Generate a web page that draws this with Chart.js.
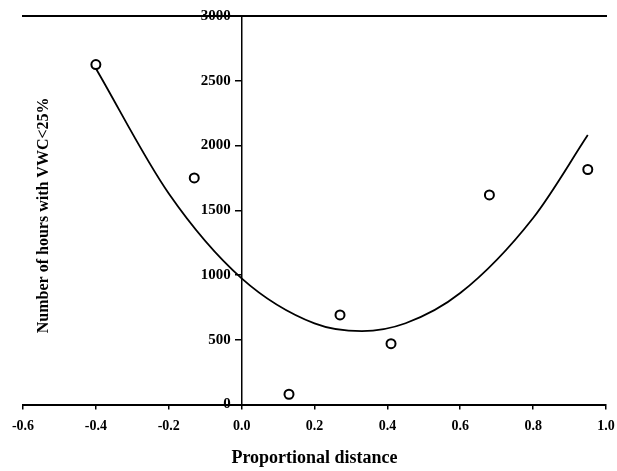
<!DOCTYPE html>
<html>
<head>
<meta charset="utf-8">
<script src="https://cdn.jsdelivr.net/npm/chart.js@4/dist/chart.umd.min.js"></script>
<style>
  html, body { margin: 0; padding: 0; background: #fff; }
  #wrap { width: 617px; height: 471px; }
</style>
</head>
<body>
<div id="wrap"><canvas id="chart"></canvas></div>
<script>
// === DATA ===
const distance = [-0.40, -0.13, 0.13, 0.27, 0.41, 0.68, 0.95];
const hours = [2625, 1750, 80, 692, 470, 1619, 1815];

// fitted curve, read at a few places along the drawn line
const fitDistance = [-0.40, -0.20, 0.00, 0.20, 0.33, 0.45, 0.60, 0.80, 0.95];
const fitHours = [2595, 1630, 975, 627, 567, 628, 861, 1441, 2081];

const xTicks = [-0.6, -0.4, -0.2, 0.0, 0.2, 0.4, 0.6, 0.8, 1.0];
const yTicks = [0, 500, 1000, 1500, 2000, 2500, 3000];

const xTitle = 'Proportional distance';
const yTitle = 'Number of hours with VWC<25%';

const serif = '"Liberation Serif", "Times New Roman", serif';

// the y axis sits at x = 0 inside the plot, so its labels and title are drawn here
const yLabelsPlugin = {
    id: 'yLabels',
    afterDraw(chart) {
        const { ctx, chartArea } = chart;
        const xs = chart.scales.x;
        const ys = chart.scales.y;
        const axisX = xs.getPixelForValue(0);
        ctx.save();
        ctx.fillStyle = '#000';

        ctx.font = 'bold 15px ' + serif;
        ctx.textAlign = 'right';
        ctx.textBaseline = 'middle';
        yTicks.forEach(v => {
            ctx.fillText(String(v), axisX - 11, ys.getPixelForValue(v));
        });

        ctx.translate(chartArea.left + 21, (chartArea.top + chartArea.bottom) / 2 + 5);
        ctx.rotate(-Math.PI / 2);
        ctx.font = 'bold 16px ' + serif;
        ctx.textAlign = 'center';
        ctx.fillText(yTitle, 0, 0);
        ctx.restore();
    }
};

new Chart(document.getElementById('chart'), {
    type: 'scatter',
    data: {
        datasets: [
            {
                label: 'Hours',
                data: distance.map((d, i) => ({ x: d, y: hours[i] })),
                pointStyle: 'circle',
                pointRadius: 4.5,
                pointBorderWidth: 2,
                pointBorderColor: '#000',
                pointBackgroundColor: '#fff',
                showLine: false
            },
            {
                label: 'Fit',
                type: 'line',
                data: fitDistance.map((d, i) => ({ x: d, y: fitHours[i] })),
                borderColor: '#000',
                borderWidth: 1.8,
                cubicInterpolationMode: 'monotone',
                pointRadius: 0,
                fill: false
            }
        ]
    },
    options: {
        responsive: true,
        maintainAspectRatio: false,
        animation: false,
        layout: { padding: { left: 23, right: 11, top: 8, bottom: 0 } },
        plugins: {
            legend: { display: false },
            tooltip: { enabled: false }
        },
        scales: {
            x: {
                type: 'linear',
                position: 'bottom',
                min: -0.6,
                max: 1.0,
                afterBuildTicks: (scale) => { scale.ticks = xTicks.map(v => ({ value: v })); },
                // let the end labels hang into the page margin
                afterFit: (scale) => { scale.paddingLeft = 0; scale.paddingRight = 0; },
                ticks: {
                    color: '#000',
                    font: { family: serif, size: 14, weight: 'bold' },
                    padding: 8,
                    maxRotation: 0,
                    callback: (v) => Number(v).toFixed(1)
                },
                grid: { drawOnChartArea: false, drawTicks: true, tickLength: 5, color: '#000', lineWidth: 1.5 },
                border: { display: true, color: '#000', width: 2 },
                title: {
                    display: true,
                    text: xTitle,
                    color: '#000',
                    font: { family: serif, size: 18, weight: 'bold' },
                    padding: { top: 5, bottom: 2 }
                }
            },
            xTop: {
                type: 'linear',
                position: 'top',
                min: -0.6,
                max: 1.0,
                afterFit: (scale) => { scale.paddingLeft = 0; scale.paddingRight = 0; },
                ticks: { display: false },
                grid: { display: false },
                border: { display: true, color: '#000', width: 2 }
            },
            y: {
                type: 'linear',
                position: { x: 0 },
                min: 0,
                max: 3000,
                afterBuildTicks: (scale) => { scale.ticks = yTicks.map(v => ({ value: v })); },
                ticks: { display: false },
                grid: { drawOnChartArea: false, drawTicks: true, tickLength: 6, color: '#000', lineWidth: 1.5 },
                border: { display: true, color: '#000', width: 1.5 }
            }
        }
    },
    plugins: [yLabelsPlugin]
});
</script>
</body>
</html>
